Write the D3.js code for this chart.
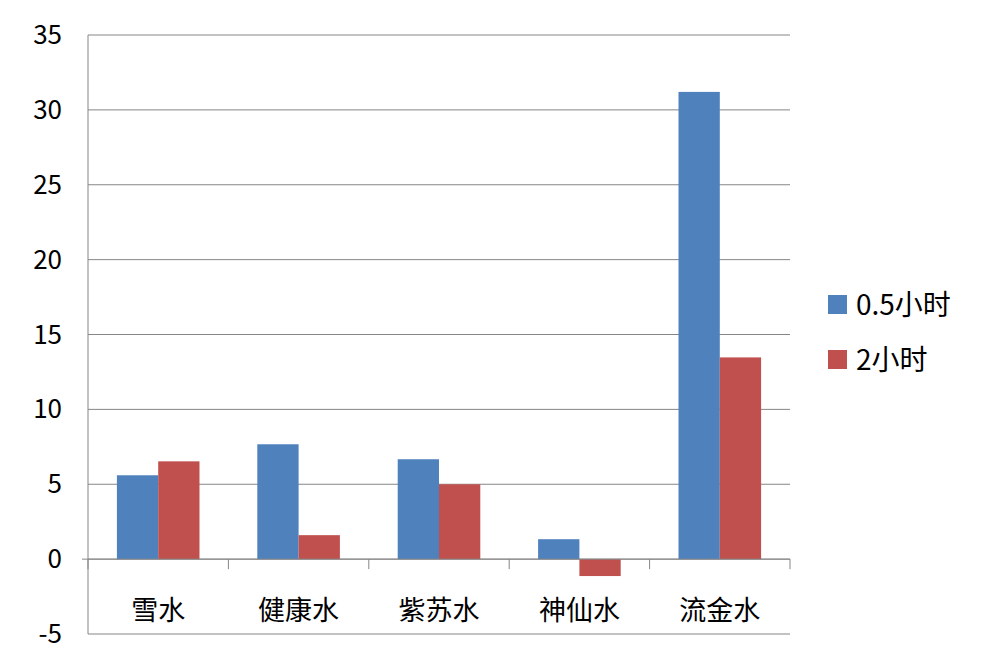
<!DOCTYPE html>
<html><head><meta charset="utf-8">
<script src="https://cdn.jsdelivr.net/npm/d3@7"></script>
<style>body{margin:0;background:#fff}svg{font-family:"Noto Sans CJK SC","Liberation Sans",sans-serif}</style>
</head><body><svg id="c" width="1002" height="669"></svg>
<script>
const categories=["雪水","健康水","紫苏水","神仙水","流金水"];
const seriesNames=["0.5小时","2小时"];
const s1=[5.6,7.67,6.67,1.33,31.2];
const s2=[6.53,1.6,5.0,-1.13,13.47];
const yTicks=[-5,0,5,10,15,20,25,30,35];
const colors=["#4f81bd","#c0504d"];
const svg=d3.select("#c");
const L=88,R=790,T=35,B=634;
const y=d3.scaleLinear().domain([-5,35]).range([B,T]);
const x=d3.scaleBand().domain(categories).range([L,R]);
const xs=d3.scaleBand().domain([0,1]).range([0,x.bandwidth()]).paddingOuter(0.7).paddingInner(0);
yTicks.forEach(t=>{
 svg.append("line").attr("x1",L).attr("x2",R).attr("y1",y(t)).attr("y2",y(t)).attr("stroke","#868686").attr("stroke-width",1);
 svg.append("text").attr("x",62).attr("y",y(t)+9).attr("text-anchor","end").attr("font-size",26).attr("fill","#000").text(t);
});
svg.append("line").attr("x1",L).attr("x2",L).attr("y1",T).attr("y2",B).attr("stroke","#868686");
const data=[s1,s2];
data.forEach((s,si)=>{
 svg.selectAll(null).data(s).enter().append("rect")
  .attr("x",(d,i)=>x(categories[i])+xs(si)).attr("width",xs.bandwidth())
  .attr("y",d=>y(Math.max(0,d))).attr("height",d=>Math.abs(y(d)-y(0)))
  .attr("fill",colors[si]);
});
svg.append("line").attr("x1",L-6).attr("x2",R).attr("y1",y(0)).attr("y2",y(0)).attr("stroke","#868686");
categories.concat([null]).forEach((c,i)=>{
 const xx=i<categories.length?x(c):R;
 svg.append("line").attr("x1",xx).attr("x2",xx).attr("y1",y(0)).attr("y2",y(0)+10).attr("stroke","#868686");
});
categories.forEach(c=>{
 svg.append("text").attr("x",x(c)+x.bandwidth()/2).attr("y",620).attr("text-anchor","middle").attr("font-size",27).text(c);
});
seriesNames.forEach((n,i)=>{
 const ly=295+i*55;
 svg.append("rect").attr("x",828).attr("y",ly).attr("width",19).attr("height",19).attr("fill",colors[i]);
 svg.append("text").attr("x",856).attr("y",ly+20).attr("font-size",28).text(n);
});
</script></body></html>
